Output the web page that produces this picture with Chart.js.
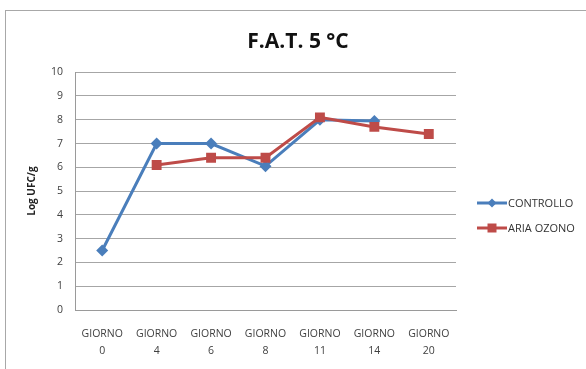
<!DOCTYPE html>
<html>
<head>
<meta charset="utf-8">
<script src="https://cdn.jsdelivr.net/npm/chart.js@4/dist/chart.umd.min.js"></script>
<style>
  html, body { margin: 0; padding: 0; background: #fff; overflow: hidden; }
  #wrap { position: relative; width: 586px; height: 369px; }
  #frame { position: absolute; left: 5px; top: 10px; width: 620px; height: 400px;
           border: 1px solid #a8a8a8; box-sizing: border-box; }
  canvas { position: absolute; left: 0; top: 0; }
</style>
</head>
<body>
<div id="wrap">
  <div id="frame"></div>
  <canvas id="c" width="586" height="369"></canvas>
</div>
<script>
// Sampling days and bacterial counts (Log UFC/g)
const categories = [["GIORNO", "0"], ["GIORNO", "4"], ["GIORNO", "6"], ["GIORNO", "8"],
                    ["GIORNO", "11"], ["GIORNO", "14"], ["GIORNO", "20"]];
const controllo = [2.5, 7.0, 7.0, 6.05, 8.0, 7.95, null];
const ariaOzono = [null, 6.1, 6.4, 6.4, 8.1, 7.7, 7.4];
const seriesNames = ["CONTROLLO", "ARIA OZONO"];
const yTicks = [0, 1, 2, 3, 4, 5, 6, 7, 8, 9, 10];

const BLUE = "#4a7ebb";
const RED = "#be4b48";
const FONT = "'Open Sans', 'Liberation Sans', sans-serif";

// Legend on the right: line segment with marker, then label
const sideLegend = {
  id: "sideLegend",
  afterDraw(chart) {
    const ctx = chart.ctx;
    const items = [
      { name: seriesNames[0], color: BLUE, style: "diamond", y: 203 },
      { name: seriesNames[1], color: RED, style: "square", y: 228 }
    ];
    ctx.save();
    items.forEach(it => {
      ctx.strokeStyle = it.color;
      ctx.lineWidth = 3;
      ctx.beginPath();
      ctx.moveTo(477, it.y);
      ctx.lineTo(507, it.y);
      ctx.stroke();
      ctx.fillStyle = it.color;
      ctx.beginPath();
      if (it.style === "diamond") {
        ctx.moveTo(492, it.y - 4.5);
        ctx.lineTo(496.5, it.y);
        ctx.lineTo(492, it.y + 4.5);
        ctx.lineTo(487.5, it.y);
        ctx.closePath();
      } else {
        ctx.rect(487.5, it.y - 4.5, 9, 9);
      }
      ctx.fill();
      ctx.fillStyle = "#333";
      ctx.font = "11px " + FONT;
      ctx.textBaseline = "middle";
      ctx.textAlign = "left";
      ctx.fillText(it.name, 508, it.y + 0.5);
    });
    ctx.restore();
  }
};

new Chart(document.getElementById("c"), {
  type: "line",
  data: {
    labels: categories,
    datasets: [
      {
        label: seriesNames[0], data: controllo, order: 2,
        borderColor: BLUE, backgroundColor: BLUE, borderWidth: 3,
        pointStyle: "rectRot", pointRadius: 6, pointBorderWidth: 0,
        tension: 0
      },
      {
        label: seriesNames[1], data: ariaOzono, order: 1,
        borderColor: RED, backgroundColor: RED, borderWidth: 3,
        pointStyle: "rect", pointRadius: 7, pointBorderWidth: 0,
        tension: 0
      }
    ]
  },
  options: {
    responsive: false,
    animation: false,
    devicePixelRatio: 1,
    layout: { padding: { left: 10, right: 0, top: 0, bottom: 0 } },
    plugins: {
      legend: { display: false },
      tooltip: { enabled: false },
      title: {
        display: true,
        text: "F.A.T. 5 °C",
        color: "#111",
        font: { family: FONT, size: 21, weight: "bold", lineHeight: 1.2 },
        padding: { top: 29, bottom: 18 }
      }
    },
    scales: {
      x: {
        offset: true,
        grid: { display: false, drawTicks: false },
        border: { display: true, color: "#9a9a9a", width: 1 },
        ticks: {
          color: "#404040", maxRotation: 0, autoSkip: false,
          padding: 15,
          font: { family: FONT, size: 10.5, lineHeight: 1.65 }
        },
        afterFit(scale) { scale.height = 59; }
      },
      y: {
        min: 0, max: 10,
        afterBuildTicks(scale) { scale.ticks = yTicks.map(v => ({ value: v })); },
        grid: { color: "#a6a6a6", lineWidth: 1, drawTicks: false },
        border: { display: true, color: "#9a9a9a", width: 1 },
        ticks: {
          color: "#404040", padding: 12,
          font: { family: FONT, size: 10.5 }
        },
        title: {
          display: true, text: "Log UFC/g", color: "#222",
          font: { family: FONT, size: 10, weight: "bold" },
          padding: { top: 16, bottom: 0 }
        },
        afterFit(scale) { scale.width = 65; }
      },
      // empty right-hand band that holds the legend
      legendBand: {
        position: "right",
        display: true,
        grid: { display: false, drawTicks: false },
        border: { display: false },
        ticks: { display: false },
        afterFit(scale) { scale.width = 130; }
      }
    }
  },
  plugins: [sideLegend]
});
</script>
</body>
</html>
